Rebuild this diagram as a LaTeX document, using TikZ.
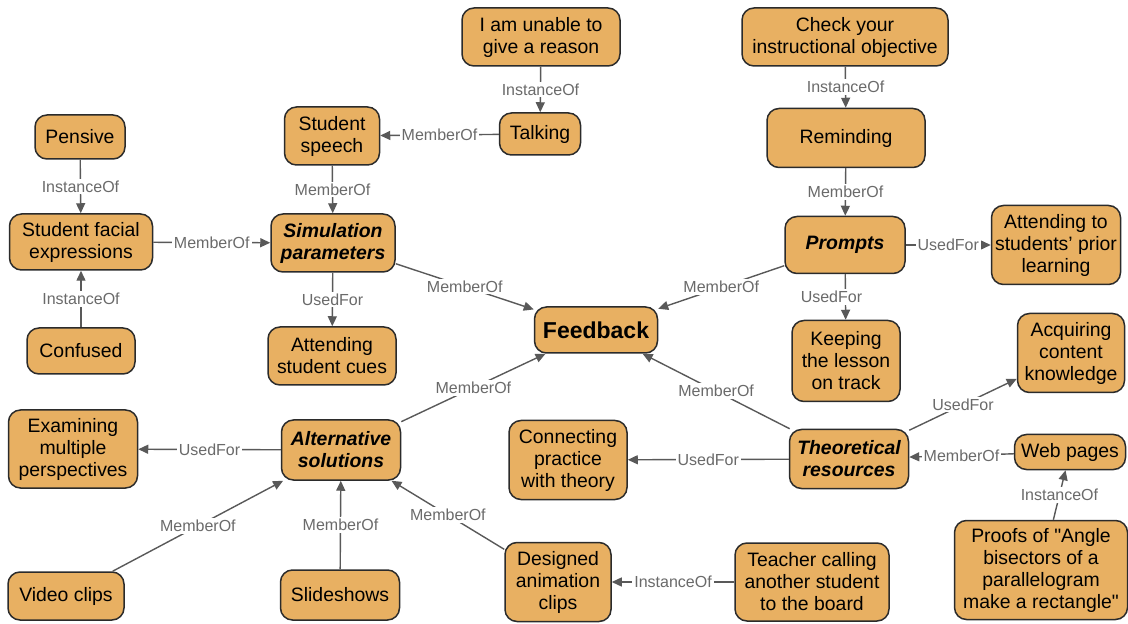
\documentclass[tikz,border=0pt]{standalone}
\usepackage{fontspec}
\setmainfont{Liberation Sans}
\usetikzlibrary{arrows.meta}
\definecolor{conceptfill}{HTML}{E8B062}
\definecolor{conceptline}{HTML}{2B2B2B}
\definecolor{linkline}{HTML}{595959}
\definecolor{linktext}{HTML}{6A6A6A}
\tikzset{
	concept/.style={draw=conceptline, line width=0.75pt, fill=conceptfill, rounded corners=6pt,
		align=center, inner sep=1pt, font=\fontsize{9.7}{11}\selectfont},
	hub/.style={concept, font=\fontsize{9.7}{11}\selectfont\bfseries\itshape},
	link/.style={draw=linkline, line width=0.7pt, -{Triangle[length=5pt,width=4.5pt]}},
	tag/.style={fill=white, inner sep=1pt, text=linktext, font=\fontsize{8}{9}\selectfont}
}

\begin{document}
\begin{tikzpicture}[x=0.5pt, y=-0.5pt]
			%%%%% START %%%%%
			\useasboundingbox (0, 0) rectangle (1128, 624);
			
			\node[concept, minimum width=79pt, minimum height=29pt] (unable) at (541, 37) {I am unable to\\give a reason};
			\node[concept, minimum width=103pt, minimum height=29pt] (check) at (845, 37) {Check your\\instructional objective};
			
			\node[concept, minimum width=45pt, minimum height=22pt] (pensive) at (80, 137) {Pensive};
			\node[concept, minimum width=47.5pt, minimum height=29pt] (speech) at (332, 136) {Student\\speech};
			\node[concept, minimum width=40.5pt, minimum height=21pt] (talking) at (540, 134) {Talking};
			\node[concept, minimum width=79pt, minimum height=29.5pt] (reminding) at (846, 138) {Reminding};
			
			\node[concept, minimum width=71.5pt, minimum height=28pt] (facial) at (81, 242) {Student facial\\expressions};
			\node[hub, minimum width=62pt, minimum height=29pt] (simulation) at (333, 243) {Simulation\\parameters};
			\node[hub, minimum width=60pt, minimum height=28.5pt] (prompts) at (845, 245) {Prompts};
			\node[concept, minimum width=64.5pt, minimum height=39.5pt] (prior) at (1056, 245) {Attending to\\students' prior\\learning};
			
			\node[concept, minimum width=54pt, minimum height=23pt] (confused) at (81, 351) {Confused};
			\node[concept, minimum width=64pt, minimum height=29pt] (cues) at (332, 356) {Attending\\student cues};
			\node[concept, minimum width=61.5pt, minimum height=23pt, font=\fontsize{11.5}{13}\selectfont\bfseries] (feedback) at (596, 330) {Feedback};
			\node[concept, minimum width=54pt, minimum height=40.5pt] (keeping) at (846, 361) {Keeping\\the lesson\\on track};
			\node[concept, minimum width=53.5pt, minimum height=39.5pt] (acquiring) at (1071, 353) {Acquiring\\content\\knowledge};
			
			\node[concept, minimum width=64.5pt, minimum height=39pt] (examining) at (73, 449) {Examining\\multiple\\perspectives};
			\node[hub, minimum width=59.5pt, minimum height=30pt] (alternative) at (341, 450) {Alternative\\solutions};
			\node[concept, minimum width=59pt, minimum height=39.5pt] (connecting) at (568, 460) {Connecting\\practice\\with theory};
			\node[hub, minimum width=59.5pt, minimum height=29.5pt] (theoretical) at (849, 459) {Theoretical\\resources};
			\node[concept, minimum width=55.5pt, minimum height=17.5pt] (web) at (1070, 452) {Web pages};
			
			\node[concept, minimum width=86.5pt, minimum height=49.5pt] (proofs) at (1041, 570) {Proofs of \textquotedbl Angle\\bisectors of a\\parallelogram\\make a rectangle\textquotedbl};
			\node[concept, minimum width=58pt, minimum height=24pt] (video) at (66, 596) {Video clips};
			\node[concept, minimum width=59.5pt, minimum height=25pt] (slides) at (340, 595) {Slideshows};
			\node[concept, minimum width=53pt, minimum height=39.5pt] (designed) at (558, 582) {Designed\\animation\\clips};
			\node[concept, minimum width=77pt, minimum height=39pt] (teacher) at (812, 582) {Teacher calling\\another student\\to the board};
			
			\draw[link] (unable) -- node[tag] {InstanceOf} (talking);
			\draw[link] (check) -- node[tag] {InstanceOf} (reminding);
			\draw[link] (talking) -- node[tag] {MemberOf} (speech);
			\draw[link] (pensive) -- node[tag] {InstanceOf} (facial);
			\draw[link] (confused) -- node[tag] {InstanceOf} (facial);
			\draw[link] (speech) -- node[tag] {MemberOf} (simulation);
			\draw[link] (facial) -- node[tag] {MemberOf} (simulation);
			\draw[link] (simulation) -- node[tag] {UsedFor} (cues);
			\draw[link] (simulation) -- node[tag] {MemberOf} (feedback);
			
			\draw[link] (reminding) -- node[tag] {MemberOf} (prompts);
			\draw[link] (prompts) -- node[tag] {UsedFor} (prior);
			\draw[link] (prompts) -- node[tag, xshift=-7pt] {UsedFor} (keeping);
			\draw[link] (prompts) -- node[tag] {MemberOf} (feedback);
			
			\draw[link] (alternative) -- node[tag] {MemberOf} (feedback);
			\draw[link] (theoretical) -- node[tag] {MemberOf} (feedback);
			\draw[link] (alternative) -- node[tag] {UsedFor} (examining);
			\draw[link] (theoretical) -- node[tag] {UsedFor} (connecting);
			\draw[link] (theoretical) -- node[tag] {UsedFor} (acquiring);
			\draw[link] (web) -- node[tag] {MemberOf} (theoretical);
			\draw[link] (proofs) -- node[tag] {InstanceOf} (web);
			
			\draw[link] (video) -- node[tag] {MemberOf} (alternative);
			\draw[link] (slides) -- node[tag] {MemberOf} (alternative);
			\draw[link] (designed) -- node[tag] {MemberOf} (alternative);
			\draw[link] (teacher) -- node[tag] {InstanceOf} (designed);
			
			%%%%% END %%%%%
		\end{tikzpicture}
\end{document}
